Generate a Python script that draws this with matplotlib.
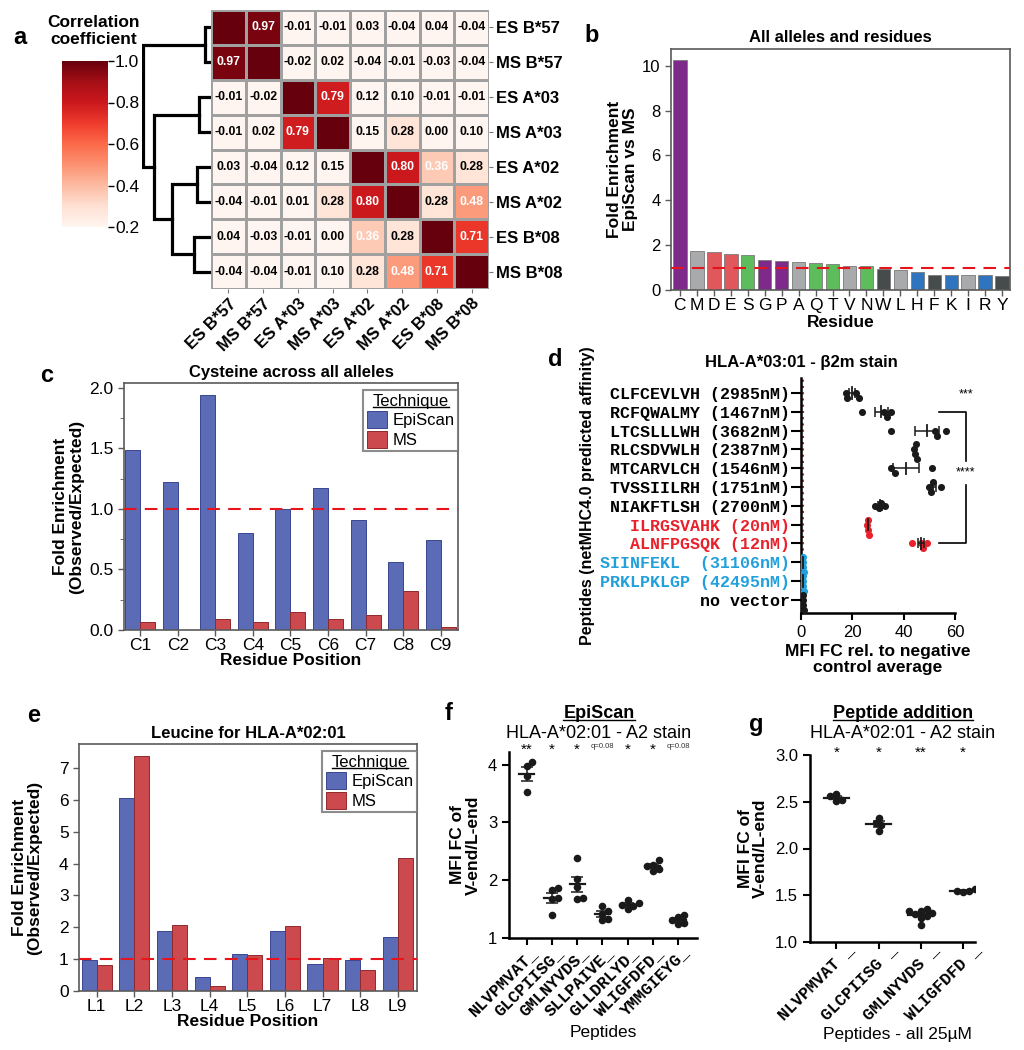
import numpy as np
import matplotlib
matplotlib.use("Agg")
import matplotlib.pyplot as plt
from matplotlib.lines import Line2D
from matplotlib.ticker import AutoMinorLocator
from matplotlib.transforms import blended_transform_factory, ScaledTranslation

plt.rcParams['font.family'] = ['Liberation Sans', 'DejaVu Sans']
MONO = ['Liberation Mono', 'DejaVu Sans Mono']

# -----------------------------
# Data
# -----------------------------
alleles = ["ES B*57", "MS B*57", "ES A*03", "MS A*03", "ES A*02", "MS A*02", "ES B*08", "MS B*08"]
corr = np.array([
    [1.00, 0.97, -0.01, -0.01, 0.03, -0.04, 0.04, -0.04],
    [0.97, 1.00, -0.02, 0.02, -0.04, -0.01, -0.03, -0.04],
    [-0.01, -0.02, 1.00, 0.79, 0.12, 0.10, -0.01, -0.01],
    [-0.01, 0.02, 0.79, 1.00, 0.15, 0.28, 0.00, 0.10],
    [0.03, -0.04, 0.12, 0.15, 1.00, 0.80, 0.36, 0.28],
    [-0.04, -0.01, 0.01, 0.28, 0.80, 1.00, 0.28, 0.48],
    [0.04, -0.03, -0.01, 0.00, 0.36, 0.28, 1.00, 0.71],
    [-0.04, -0.04, -0.01, 0.10, 0.28, 0.48, 0.71, 1.00],
])
# merges of the row dendrogram: (node a, node b, height); leaves are 0..7
dendro_merges = [(0, 1, 6), (2, 3, 12), (4, 5, 14), (6, 7, 17), (10, 11, 38), (9, 12, 56), (8, 13, 67)]

residues = list("CMDESGPAQTVNWLHFKIRY")
residue_fe = [10.27, 1.74, 1.70, 1.59, 1.56, 1.35, 1.28, 1.26, 1.20, 1.18,
              1.09, 1.09, 0.94, 0.88, 0.79, 0.68, 0.68, 0.67, 0.65, 0.63]
residue_group = ["special", "aliphatic", "acidic", "acidic", "polar", "special", "special",
                 "aliphatic", "polar", "polar", "aliphatic", "polar", "aromatic", "aliphatic",
                 "basic", "aromatic", "basic", "aliphatic", "basic", "aromatic"]
group_colors = {"special": "#7d2a8b", "aliphatic": "#a8aaac", "acidic": "#e0575c",
                "polar": "#5dbd5d", "aromatic": "#464c4b", "basic": "#2f74bf"}

cys_positions = ["C%d" % i for i in range(1, 10)]
cys_episcan = [1.49, 1.22, 1.94, 0.805, 1.00, 1.175, 0.91, 0.565, 0.745]
cys_ms = [0.07, 0.0, 0.09, 0.07, 0.15, 0.09, 0.125, 0.32, 0.028]

leu_positions = ["L%d" % i for i in range(1, 10)]
leu_episcan = [0.985, 6.04, 1.88, 0.44, 1.17, 1.89, 0.84, 0.985, 1.68]
leu_ms = [0.81, 7.37, 2.07, 0.17, 1.12, 2.05, 1.04, 0.65, 4.18]

d_peptides = ["CLFCEVLVH (2985nM)", "RCFQWALMY (1467nM)", "LTCSLLLWH (3682nM)",
              "RLCSDVWLH (2387nM)", "MTCARVLCH (1546nM)", "TVSSIILRH (1751nM)",
              "NIAKFTLSH (2700nM)", "ILRGSVAHK (20nM)", "ALNFPGSQK (12nM)",
              "SIINFEKL  (31106nM)", "PRKLPKLGP (42495nM)", "no vector"]
d_groups = ["test"] * 7 + ["positive"] * 2 + ["negative"] * 2 + ["none"]
d_values = [[17.6, 17.9, 21.5, 22.6], [23.8, 32.5, 33.5, 35.2], [35.0, 52.0, 53.0, 56.2],
            [43.8, 44.2, 44.6, 45.0], [35.2, 36.5, 51.0], [49.8, 50.5, 51.2, 54.5],
            [28.8, 30.5, 31.0, 32.7], [25.8, 26.0, 26.2, 26.4], [43.2, 46.8, 47.5, 49.0],
            [0.9, 1.0, 1.0, 1.1], [0.9, 1.0, 1.05, 1.1], [0.8, 0.9, 1.0, 1.1]]
d_colors = {"test": "#1a1a1a", "positive": "#e8212b", "negative": "#22a0dc", "none": "#1a1a1a"}

f_peptides = ["NLVPMVAT_", "GLCPIISG_", "GMLNYVDS_", "SLLPAIVE_", "GLLDRLYD_", "WLIGFDFD_", "YMMGIEYG_"]
f_values = [[4.05, 3.97, 3.80, 3.53], [1.87, 1.83, 1.70, 1.67, 1.40], [2.38, 2.03, 1.89, 1.69, 1.68],
            [1.56, 1.46, 1.42, 1.33, 1.31], [1.66, 1.60, 1.57, 1.55, 1.51],
            [2.35, 2.27, 2.24, 2.19, 2.16], [1.40, 1.37, 1.31, 1.26, 1.24]]
f_sig = ["**", "*", "*", "q=0.08", "*", "*", "q=0.08"]

g_peptides = ["NLVPMVAT _", "GLCPIISG _", "GMLNYVDS _", "WLIGFDFD _"]
g_values = [[2.51, 2.58, 2.52, 2.56], [2.27, 2.19, 2.33, 2.25],
            [1.35, 1.33, 1.33, 1.31, 1.30, 1.28, 1.26, 1.18], [1.53, 1.57, 1.55, 1.55]]
g_sig = ["*", "*", "**", "*"]

EPI = "#5b6bb5"
MSC = "#cc4a4e"
DASH_RED = "#e8141c"

# -----------------------------
# Helpers
# -----------------------------
W, H = 1024, 1050
fig = plt.figure(figsize=(W / 100, H / 100), dpi=100)


def rect(x0, y0, x1, y1):
    return [x0 / W, 1 - y1 / H, (x1 - x0) / W, (y1 - y0) / H]


def ftext(x, y, s, **kw):
    return fig.text(x / W, 1 - y / H, s, **kw)


def swarm(vals, d_val, d_pos):
    """simple beeswarm: offsets along the category axis so markers don't overlap"""
    vals = np.asarray(vals, float)
    offs = np.zeros(len(vals))
    placed = []
    for i in np.argsort(vals):
        k = 0
        while True:
            o = ((k + 1) // 2) * (1 if k % 2 else -1) * 0.5 * d_pos
            if all(((vals[i] - v) / d_val) ** 2 + ((o - p) / d_pos) ** 2 >= 1 for v, p in placed):
                break
            k += 1
        offs[i] = o
        placed.append((vals[i], o))
    return offs


def box_axes(ax):
    for s in ax.spines.values():
        s.set_color("#5a5a5a")
        s.set_linewidth(1.2)
    ax.tick_params(colors="#5a5a5a", labelcolor="black", length=4, width=1, labelsize=12)


def lr_axes(ax):
    ax.spines[["top", "right"]].set_visible(False)
    for s in ["left", "bottom"]:
        ax.spines[s].set_linewidth(1.8)
    ax.tick_params(length=5, width=1.5, labelsize=12)


underlines = []

# -----------------------------
# a: heatmap + dendrogram
# -----------------------------
ax_hm = fig.add_axes(rect(211, 10, 489, 289))
n = len(alleles)
mesh = ax_hm.pcolormesh(np.arange(n + 1), np.arange(n + 1), corr, cmap="Reds", vmin=0.2, vmax=1.0,
                        edgecolors="#a0a0a0", linewidth=1)
ax_hm.set_xlim(0, n)
ax_hm.set_ylim(n, 0)
for i in range(n):
    for j in range(n):
        if i == j:
            continue
        v = corr[i, j]
        ax_hm.text(j + 0.5, i + 0.5, "%.2f" % v, ha="center", va="center", fontsize=8.8,
                   weight="bold", color="white" if v > 0.3 else "black")
ax_hm.set_xticks(np.arange(n) + 0.5)
ax_hm.set_xticklabels(alleles, rotation=45, ha="right", rotation_mode="anchor", fontsize=12, weight="bold")
ax_hm.set_yticks(np.arange(n) + 0.5)
ax_hm.set_yticklabels(alleles, fontsize=12, weight="bold")
ax_hm.yaxis.tick_right()
ax_hm.tick_params(length=3, color="#777777", pad=2)
for s in ax_hm.spines.values():
    s.set_visible(False)

ax_dn = fig.add_axes(rect(142, 10, 211, 289))
ypos = {i: i + 0.5 for i in range(n)}
hpos = {i: 0.0 for i in range(n)}
node = n
for a, b, h in dendro_merges:
    ax_dn.plot([hpos[a], h, h, hpos[b]], [ypos[a], ypos[a], ypos[b], ypos[b]],
               color="black", lw=2.3, solid_capstyle="projecting", solid_joinstyle="miter")
    ypos[node] = (ypos[a] + ypos[b]) / 2
    hpos[node] = h
    node += 1
ax_dn.set_xlim(68, 0)
ax_dn.set_ylim(n, 0)
ax_dn.axis("off")

ax_cb = fig.add_axes(rect(62, 61, 108, 227))
cb = fig.colorbar(mesh, cax=ax_cb, ticks=[0.2, 0.4, 0.6, 0.8, 1.0])
cb.outline.set_visible(False)
cb.ax.tick_params(labelsize=12.5, length=4, width=1, pad=1)
cb.ax.set_yticklabels(["0.2", "0.4", "0.6", "0.8", "1.0"])
ftext(94, 31, "Correlation\ncoefficient", ha="center", va="center", fontsize=12.5, weight="bold",
      linespacing=1.1)
ftext(20, 37, "a", fontsize=17, weight="bold", ha="center", va="center")

# -----------------------------
# b: fold enrichment by residue
# -----------------------------
ax_b = fig.add_axes(rect(671, 49, 1010, 290))
xb = np.arange(len(residues))
ax_b.bar(xb, residue_fe, width=0.8, color=[group_colors[g] for g in residue_group],
         edgecolor="#7a7a7a", linewidth=0.6, zorder=2)
ax_b.axhline(1, color=DASH_RED, ls=(0, (6, 4)), lw=1.5, zorder=3)
ax_b.set_xlim(-0.52, len(residues) - 0.54)
ax_b.set_ylim(0, 10.75)
ax_b.set_yticks([0, 2, 4, 6, 8, 10])
ax_b.set_xticks(xb)
ax_b.set_xticklabels(residues)
box_axes(ax_b)
ax_b.tick_params(axis="x", labelsize=12.5, pad=2)
ax_b.set_xlabel("Residue", fontsize=12.5, weight="bold", labelpad=1)
ax_b.set_ylabel("Fold Enrichment\nEpiScan vs MS", fontsize=12.5, weight="bold", labelpad=3,
                linespacing=1.05)
ax_b.set_title("All alleles and residues", fontsize=12, weight="bold", pad=5)
ftext(592, 36, "b", fontsize=17, weight="bold", ha="center", va="center")


# -----------------------------
# c / e: grouped bars
# -----------------------------
def grouped(ax, labels, epi, ms, ylim, yticks, title):
    x = np.arange(len(labels))
    ax.bar(x - 0.2, epi, width=0.4, color=EPI, edgecolor="#3a4590", linewidth=0.7, label="EpiScan", zorder=2)
    ax.bar(x + 0.2, ms, width=0.4, color=MSC, edgecolor="#8f2a2d", linewidth=0.7, label="MS", zorder=2)
    ax.axhline(1, color=DASH_RED, ls=(0, (6, 4)), lw=1.5, zorder=3)
    ax.set_xticks(x)
    ax.set_xticklabels(labels)
    ax.set_ylim(*ylim)
    ax.set_yticks(yticks)
    box_axes(ax)
    ax.tick_params(axis="x", labelsize=12.5, pad=2)
    ax.tick_params(axis="y", labelsize=12.5)
    ax.set_xlabel("Residue Position", fontsize=12.5, weight="bold", labelpad=0)
    ax.set_title(title, fontsize=12, weight="bold", pad=4)
    leg = ax.legend(title="Technique", loc="upper right", bbox_to_anchor=(1.0, 0.97), borderaxespad=0,
                    fontsize=12, title_fontsize=12, frameon=True, fancybox=False,
                    handlelength=1.2, handleheight=1.2, handletextpad=0.35, borderpad=0.2,
                    labelspacing=0.15, edgecolor="#707070")
    leg.get_frame().set_linewidth(1.5)
    underlines.append(leg.get_title())
    return ax


ax_c = fig.add_axes(rect(124, 383, 458, 630))
grouped(ax_c, cys_positions, cys_episcan, cys_ms, (0, 2.04), [0, 0.5, 1.0, 1.5, 2.0],
        "Cysteine across all alleles")
ax_c.set_xlim(-0.43, 8.46)
ax_c.yaxis.set_minor_locator(AutoMinorLocator(2))
ax_c.tick_params(which="minor", length=3, color="#5a5a5a")
ax_c.set_ylabel("Fold Enrichment\n(Observed/Expected)", fontsize=12.5, weight="bold", labelpad=4,
                linespacing=1.05)
ftext(47, 375, "c", fontsize=17, weight="bold", ha="center", va="center")

ax_e = fig.add_axes(rect(79, 744, 417, 991))
grouped(ax_e, leu_positions, leu_episcan, leu_ms, (0, 7.75), list(range(8)), "Leucine for HLA-A*02:01")
ax_e.set_xlim(-0.47, 8.51)
ax_e.set_ylabel("Fold Enrichment\n(Observed/Expected)", fontsize=12.5, weight="bold", labelpad=12,
                linespacing=1.05)
ftext(34, 716, "e", fontsize=17, weight="bold", ha="center", va="center")

# -----------------------------
# d: beta2m stain
# -----------------------------
ax_d = fig.add_axes(rect(800.7, 378, 955.4, 613))
ax_d.axvline(1, color=DASH_RED, ls=(0, (1, 2)), lw=1.5, zorder=1)
for r, (vals, grp) in enumerate(zip(d_values, d_groups)):
    vals = np.asarray(vals)
    offs = swarm(vals, 2.3 * 0.85, 0.31 * 0.85)
    ax_d.scatter(vals, r + offs, s=26, color=d_colors[grp], zorder=3, linewidths=0)
    m = vals.mean()
    sem = vals.std(ddof=1) / np.sqrt(len(vals))
    if grp in ("test", "positive") and sem > 0.3:
        ax_d.errorbar(m, r, xerr=sem, fmt="none", ecolor="#1a1a1a", elinewidth=1.1, capsize=3.5,
                      capthick=1.1, zorder=4)
    ax_d.plot([m, m], [r - 0.3, r + 0.3], color="#1a1a1a", lw=1.3, zorder=4)
ax_d.set_xlim(0, 60)
ax_d.set_ylim(len(d_peptides) - 0.3, -0.8)
ax_d.set_xticks([0, 20, 40, 60])
ax_d.set_yticks(np.arange(len(d_peptides)))
ax_d.set_yticklabels(d_peptides, fontfamily=MONO, weight="bold", fontsize=11.7)
for lab, grp in zip(ax_d.get_yticklabels(), d_groups):
    lab.set_color(d_colors[grp] if grp in ("positive", "negative") else "black")
lr_axes(ax_d)
ax_d.tick_params(axis="y", length=7, pad=1)
ax_d.set_xlabel("MFI FC rel. to negative\ncontrol average", fontsize=12.5, weight="bold", labelpad=3,
                linespacing=1.05)
ax_d.set_ylabel("Peptides (netMHC4.0 predicted affinity)", fontsize=11.5, weight="bold", labelpad=3)
ftext(801, 362, "HLA-A*03:01 - β2m stain", fontsize=12, weight="bold", ha="center", va="center")
# significance bracket
bx0, bx1 = 53.6, 64.0
ax_d.plot([bx0, bx1, bx1], [1, 1, 3.6], color="black", lw=1.2, clip_on=False)
ax_d.plot([bx1, bx1, bx0], [4.9, 8, 8], color="black", lw=1.2, clip_on=False)
ax_d.text(bx1, 4.2, "****", ha="center", va="center", fontsize=9, clip_on=False)
ax_d.text(bx1, 0.1, "***", ha="center", va="center", fontsize=9, clip_on=False)
ftext(555, 359, "d", fontsize=17, weight="bold", ha="center", va="center")


# -----------------------------
# f / g: A2 stain dot plots
# -----------------------------
def dotplot(ax, labels, values, sig, ypix, xpix, shift_px):
    dpx = 6.8
    for i, vals in enumerate(values):
        vals = np.asarray(vals)
        offs = swarm(vals, dpx / ypix * 0.85, dpx / xpix * 0.85)
        ax.scatter(i + offs, vals, s=30, color="#1a1a1a", zorder=3, linewidths=0)
        m = vals.mean()
        sem = vals.std(ddof=1) / np.sqrt(len(vals))
        ax.errorbar(i, m, yerr=sem, fmt="none", ecolor="#1a1a1a", elinewidth=1.1, capsize=4,
                    capthick=1.1, zorder=4)
        ax.plot([i - 0.3, i + 0.3], [m, m], color="#1a1a1a", lw=1.6, zorder=4)
    ax.set_xticks(np.arange(len(labels)))
    ax.set_xticklabels(labels, rotation=45, ha="right", rotation_mode="anchor",
                       fontfamily=MONO, weight="bold", fontsize=10.5)
    lr_axes(ax)
    ax.tick_params(axis="x", pad=2)
    off = ScaledTranslation(shift_px / 100, shift_px / 100, fig.dpi_scale_trans)
    for lab in ax.get_xticklabels():
        lab.set_transform(lab.get_transform() + off)
    tr = blended_transform_factory(ax.transData, ax.transAxes)
    for i, s in enumerate(sig):
        if s.startswith("q"):
            ax.text(i, 1.03, s, transform=tr, ha="center", va="center", fontsize=5.5, color="#333333")
        else:
            ax.text(i, 1.01, s, transform=tr, ha="center", va="center", fontsize=11)


ax_f = fig.add_axes(rect(509, 752, 697, 938))
dotplot(ax_f, f_peptides, f_values, f_sig, 57.7, 25.3, 3)
ax_f.set_xlim(-0.7, len(f_peptides) - 0.25)
ax_f.set_ylim(1, 4.22)
ax_f.set_yticks([1, 2, 3, 4])
ax_f.set_ylabel("MFI FC of\nV-end/L-end", fontsize=12.5, weight="bold", labelpad=5, linespacing=1.05)
ftext(603, 1033, "Peptides", fontsize=12.5, ha="center", va="center")
t = ftext(599, 713, "EpiScan", fontsize=13, weight="bold", ha="center", va="center")
underlines.append(t)
ftext(599, 734, "HLA-A*02:01 - A2 stain", fontsize=13, ha="center", va="center")
ftext(449, 713, "f", fontsize=17, weight="bold", ha="center", va="center")

ax_g = fig.add_axes(rect(810, 755, 975, 942))
dotplot(ax_g, g_peptides, g_values, g_sig, 93.3, 42.5, 10)
ax_g.set_xlim(-0.62, len(g_peptides) - 0.72)
ax_g.set_ylim(1.0, 3.0)
ax_g.set_yticks([1.0, 1.5, 2.0, 2.5, 3.0])
ax_g.set_yticklabels(["1.0", "1.5", "2.0", "2.5", "3.0"])
ax_g.set_ylabel("MFI FC of\nV-end/L-end", fontsize=12.5, weight="bold", labelpad=5, linespacing=1.05)
ftext(897, 1035, "Peptides - all 25µM", fontsize=12.5, ha="center", va="center")
t = ftext(903, 713, "Peptide addition", fontsize=13, weight="bold", ha="center", va="center")
underlines.append(t)
ftext(903, 734, "HLA-A*02:01 - A2 stain", fontsize=13, ha="center", va="center")
ftext(756, 724, "g", fontsize=17, weight="bold", ha="center", va="center")

# underline titles
fig.canvas.draw()
inv = fig.transFigure.inverted()
for t in underlines:
    bb = t.get_window_extent().transformed(inv)
    y = bb.y0 + 1.5 / H
    fig.add_artist(Line2D([bb.x0, bb.x1], [y, y], transform=fig.transFigure, color="black", lw=1.0))

fig.savefig("out.png", dpi=100)
